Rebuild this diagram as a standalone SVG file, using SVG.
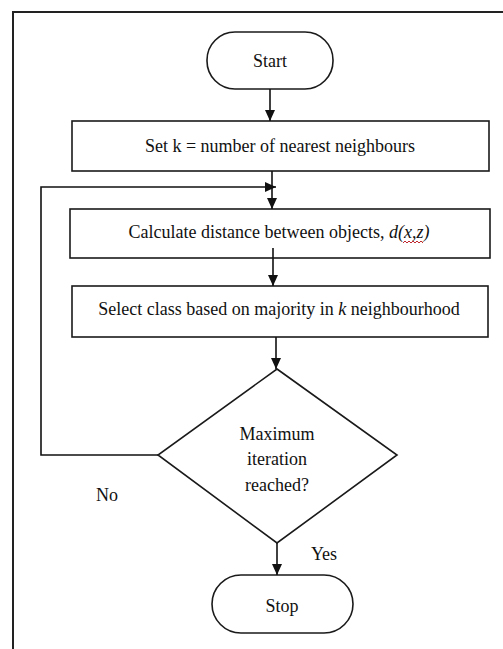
<svg xmlns="http://www.w3.org/2000/svg" width="503" height="649" viewBox="0 0 503 649">
<style>
.shape{fill:#fff;stroke:#1a1a1a;stroke-width:1.6}
.conn{fill:none;stroke:#111;stroke-width:1.6}
.t{font-family:"Liberation Serif","DejaVu Serif",serif;font-size:18px;fill:#111;text-anchor:middle}
.frame{fill:none;stroke:#222;stroke-width:2}
</style>
<defs>
<marker id="ah" markerUnits="userSpaceOnUse" markerWidth="12" markerHeight="12" viewBox="0 0 12 12" refX="11" refY="6" orient="auto">
<path d="M0,1 L11,6 L0,11 z" fill="#111"/>
</marker>
</defs>
<rect width="503" height="649" fill="#fff"/>
<path class="frame" d="M13,649 V12 H503"/>
<g id="start">
<rect class="shape" x="207" y="32" width="126" height="57" rx="28" ry="28"/>
<text class="t" x="270" y="67">Start</text>
</g>
<g id="setk">
<rect class="shape" x="72" y="121" width="417" height="50"/>
<text class="t" x="280" y="152">Set k = number of nearest neighbours</text>
</g>
<g id="calc">
<rect class="shape" x="70" y="209" width="420" height="49"/>
<text class="t" x="279" y="238">Calculate distance between objects, <tspan font-style="italic">d(x,z)</tspan></text>
<path d="M403,243 l2,-2 l2,2 l2,-2 l2,2 l2,-2 l2,2 l2,-2 l2,2 l2,-2 l2,2" fill="none" stroke="#c0262d" stroke-width="1"/>
</g>
<g id="select">
<rect class="shape" x="72" y="286" width="416" height="51"/>
<text class="t" x="279" y="315">Select class based on majority in <tspan font-style="italic">k</tspan> neighbourhood</text>
</g>
<g id="decision">
<polygon class="shape" points="277,369 397,455 277,543 158,455"/>
<text class="t" x="277" y="440">Maximum</text>
<text class="t" x="277" y="465">iteration</text>
<text class="t" x="277" y="491">reached?</text>
</g>
<g id="stop">
<rect class="shape" x="212" y="575" width="141" height="58" rx="29" ry="29"/>
<text class="t" x="282" y="612">Stop</text>
</g>
<g id="connectors">
<line class="conn" x1="270" y1="89" x2="270" y2="121" marker-end="url(#ah)"/>
<line class="conn" x1="272" y1="171" x2="272" y2="209" marker-end="url(#ah)"/>
<line class="conn" x1="273" y1="248" x2="273" y2="286" marker-end="url(#ah)"/>
<line class="conn" x1="276" y1="337" x2="276" y2="369" marker-end="url(#ah)"/>
<line class="conn" x1="277" y1="543" x2="277" y2="575" marker-end="url(#ah)"/>
<polyline class="conn" points="158,455 41,455 41,187 276,187" marker-end="url(#ah)"/>
<text class="t" x="107" y="501">No</text>
<text class="t" x="324" y="560">Yes</text>
</g>
</svg>
